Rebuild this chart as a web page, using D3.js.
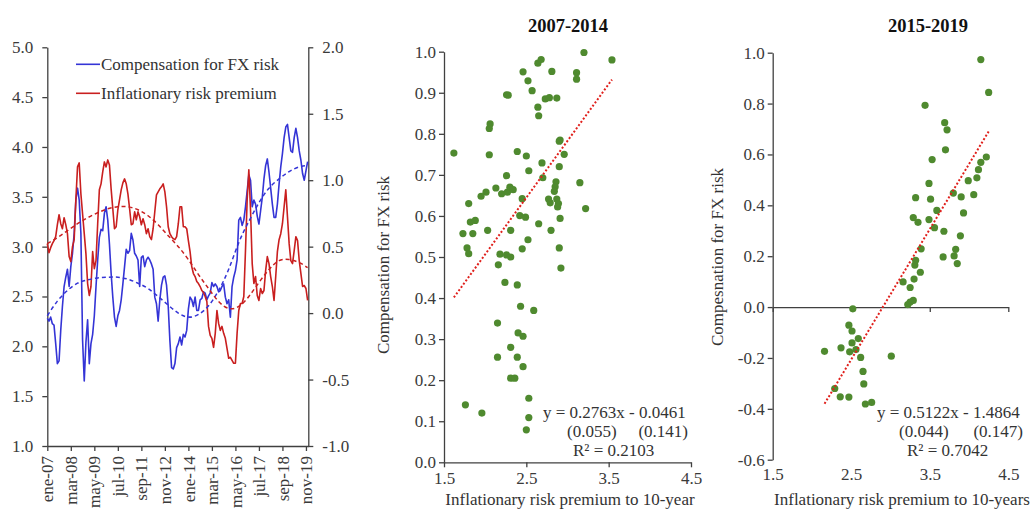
<!DOCTYPE html>
<html><head><meta charset="utf-8">
<script src="https://cdn.jsdelivr.net/npm/d3@7"></script>
<style>
body{margin:0;background:#fff;}
svg{display:block;font-family:"Liberation Serif","Times New Roman",serif;}
.tick text{fill:#3a3a3a;font-size:17px;font-family:"Liberation Serif","Times New Roman",serif;}
.axis path,.axis line{stroke:#404040;stroke-width:1.3;}
</style></head><body>
<svg id="c" width="1032" height="511"></svg>
<script>
// ---------- DATA ----------
const monthTickIdx = [0,14,28,42,56,70,84,98,112,126,140,154];
const monthTickLabels = ["ene-07","mar-08","may-09","jul-10","sep-11","nov-12","ene-14","mar-15","may-16","jul-17","sep-18","nov-19"];
const leftTicks = [1.0,1.5,2.0,2.5,3.0,3.5,4.0,4.5,5.0];
const rightTicks = [-1.0,-0.5,0.0,0.5,1.0,1.5,2.0];
const seriesNames = ["Compensation for FX risk","Inflationary risk premium"];

// monthly, Jan-2007 .. Dec-2019
const inflPrem = [3.03,2.94,2.99,3.03,3.06,3.10,3.22,3.32,3.23,3.18,
 3.29,3.22,3.13,2.90,2.85,3.00,3.07,3.47,3.80,3.84,
 3.53,3.33,3.13,2.93,2.63,2.51,2.60,2.95,2.78,2.86,
 3.23,3.57,3.63,3.75,3.85,3.80,3.87,3.82,3.58,3.38,
 3.18,3.20,3.37,3.47,3.57,3.64,3.68,3.63,3.53,3.38,
 3.22,3.23,3.35,3.27,3.35,3.30,3.22,3.28,3.22,3.13,
 3.18,3.10,3.07,3.18,3.35,3.52,3.55,3.58,3.60,3.63,
 3.55,3.40,3.20,3.13,3.10,3.08,3.07,3.10,3.23,3.40,
 3.40,3.20,3.20,3.18,3.06,2.95,2.80,2.73,2.70,2.65,
 2.63,2.60,2.56,2.54,2.50,2.45,2.20,2.11,2.08,1.99,
 2.13,2.36,2.23,2.16,2.20,2.13,2.08,1.98,1.88,1.89,
 1.86,1.83,1.83,2.13,2.36,2.43,2.43,2.50,2.96,3.47,
 3.77,3.37,2.83,2.63,2.70,2.51,2.46,2.58,2.53,2.56,
 2.76,2.90,2.83,2.70,2.60,2.46,2.70,2.95,3.07,3.13,
 3.23,3.40,3.57,3.30,3.03,2.86,2.83,2.96,3.10,3.06,
 2.86,2.73,2.60,2.61,2.58,2.46];
const fxComp = [-0.04,-0.06,-0.03,-0.08,-0.09,-0.23,-0.38,-0.36,-0.13,0.05,
 0.20,0.27,0.33,0.20,0.35,0.45,0.60,0.85,0.94,0.85,
 0.60,-0.20,-0.51,-0.22,-0.05,-0.38,-0.23,-0.16,-0.02,0.20,
 0.40,0.57,0.63,0.62,0.75,0.80,0.70,0.52,0.30,0.12,
 -0.03,-0.10,-0.02,0.02,0.10,0.22,0.35,0.48,0.45,0.47,
 0.60,0.55,0.45,0.43,0.40,0.20,0.42,0.43,0.35,0.40,
 0.42,0.40,0.37,0.33,0.12,0.07,-0.06,0.10,0.21,0.27,
 0.28,0.21,0.05,-0.21,-0.41,-0.42,-0.38,-0.26,-0.23,-0.18,
 -0.24,-0.16,-0.18,-0.13,0.03,0.12,0.10,0.05,0.12,0.02,
 0.02,0.10,0.11,0.16,0.15,0.10,0.13,0.15,0.23,0.20,
 0.22,0.20,0.16,0.17,0.20,0.22,0.12,0.07,0.10,-0.03,
 0.20,0.27,0.32,0.40,0.70,0.72,0.66,0.70,0.80,0.92,
 1.04,1.00,0.80,0.85,0.82,0.73,0.67,0.77,0.87,1.01,
 1.11,1.16,1.06,0.94,0.82,0.72,0.72,0.82,0.97,1.10,
 1.20,1.32,1.40,1.42,1.32,1.22,1.21,1.32,1.39,1.32,
 1.22,1.15,1.05,1.00,1.07,1.14];
// polynomial trend lines
const trendMonths = [0,6,12,18,24,30,36,42,48,54,60,66,72,78,84,90,96,102,108,114,120,126,132,138,144,150,155];
const fxTrend = [-0.02,0.09,0.17,0.225,0.25,0.265,0.27,0.27,0.255,0.225,0.185,0.125,0.06,0.0,-0.03,-0.01,0.055,0.17,0.33,0.53,0.69,0.83,0.94,1.01,1.065,1.10,1.11];
const inflTrend = [3.03,3.09,3.16,3.23,3.29,3.34,3.38,3.40,3.40,3.37,3.31,3.22,3.11,3.00,2.87,2.72,2.58,2.45,2.38,2.40,2.50,2.64,2.77,2.86,2.87,2.84,2.79];

// scatter 2007-2014
const scatA_x = [1.62,2.05,2.06,2.05,2.26,2.28,2.46,2.52,2.57,2.64,2.68,2.81,2.64,2.65,2.73,2.78,2.87,3.20,3.54,3.11,3.11,2.91,2.90,2.96,2.90,2.69,2.53,2.50,2.39,2.70,2.26,2.13,2.01,1.95,2.20,2.27,2.30,2.34,2.45,2.86,2.85,2.84,2.77,2.79,2.87,2.89,2.88,2.91,3.15,3.22,1.80,1.82,1.88,1.73,1.85,2.03,2.31,2.42,2.49,2.52,2.65,2.80,2.45,2.90,1.78,1.80,2.18,2.26,2.31,2.16,2.92,2.24,2.39,2.43,2.59,2.15,2.40,2.46,2.31,2.15,2.39,2.46,2.31,2.36,2.53,1.76,1.96,2.53,2.50];
const scatA_y = [0.753,0.813,0.824,0.749,0.895,0.894,0.951,0.929,0.905,0.972,0.981,0.952,0.865,0.844,0.885,0.888,0.887,0.998,0.980,0.949,0.933,0.785,0.782,0.750,0.720,0.729,0.710,0.746,0.757,0.693,0.698,0.668,0.658,0.648,0.654,0.658,0.670,0.664,0.642,0.683,0.671,0.660,0.641,0.632,0.641,0.630,0.622,0.594,0.681,0.618,0.630,0.585,0.589,0.557,0.557,0.565,0.565,0.601,0.597,0.542,0.581,0.565,0.520,0.522,0.522,0.508,0.507,0.505,0.500,0.481,0.473,0.438,0.432,0.380,0.370,0.339,0.315,0.307,0.280,0.256,0.256,0.233,0.205,0.205,0.156,0.140,0.120,0.109,0.079];
// scatter 2015-2019
const scatB_x = [4.15,4.25,3.44,3.69,3.72,3.70,3.53,4.22,4.15,4.12,4.10,3.99,3.49,3.32,3.51,3.80,3.90,4.06,3.59,3.93,3.29,3.35,3.49,3.56,3.68,3.89,3.39,3.83,3.67,3.81,3.85,3.32,3.31,3.16,3.38,3.30,3.25,3.29,3.25,3.22,2.52,2.47,2.51,2.59,2.51,2.16,2.37,2.48,2.56,2.62,3.01,2.65,2.66,2.29,2.36,2.47,2.68,2.76];
const scatB_y = [0.973,0.844,0.793,0.725,0.697,0.618,0.580,0.590,0.569,0.540,0.508,0.497,0.486,0.430,0.424,0.448,0.433,0.442,0.380,0.370,0.352,0.333,0.344,0.312,0.298,0.280,0.229,0.227,0.197,0.201,0.171,0.184,0.165,0.099,0.137,0.110,0.077,0.026,0.020,0.010,-0.007,-0.071,-0.094,-0.124,-0.141,-0.174,-0.160,-0.176,-0.167,-0.198,-0.193,-0.253,-0.302,-0.320,-0.353,-0.354,-0.381,-0.375];
const scatTicksX = [1.5,2.5,3.5,4.5];
const scatA_ticksY = [0,0.1,0.2,0.3,0.4,0.5,0.6,0.7,0.8,0.9,1.0];
const scatB_ticksY = [-0.6,-0.4,-0.2,0.0,0.2,0.4,0.6,0.8,1.0];
const eqA = {slope:0.2763, intercept:-0.0461, se:["(0.055)","(0.141)"], r2:"0.2103"};
const eqB = {slope:0.5122, intercept:-1.4864, se:["(0.044)","(0.147)"], r2:"0.7042"};
const titles = ["2007-2014","2015-2019"];
const yTitles = ["Compensation for FX risk","Compesnation for FX risk"];
const xTitles = ["Inflationary risk premium to 10-year","Inflationary risk premium to 10-years"];

// ---------- DRAW ----------
const svg = d3.select("#c");
const fmt = d => d.toFixed(1);
const BLUE="#3434d6", RED="#c91f1f", GREEN="#4f8a2f", DOT="#e0201c";

// Panel 1
const x1 = d3.scaleLinear().domain([0,155.4]).range([47.3,308.3]);
const yL = d3.scaleLinear().domain([1,5]).range([446,47.3]);
const yR = d3.scaleLinear().domain([-1,2]).range([446,47.3]);

svg.append("g").attr("class","axis").attr("transform","translate(47.3,0)")
  .call(d3.axisLeft(yL).tickValues(leftTicks).tickFormat(fmt).tickSize(5).tickSizeOuter(0).tickPadding(9));
svg.append("g").attr("class","axis").attr("transform","translate(308.3,0)")
  .call(d3.axisRight(yR).tickValues(rightTicks).tickFormat(fmt).tickSize(5).tickSizeOuter(0).tickPadding(9));
const bx = svg.append("g").attr("class","axis").attr("transform","translate(0,446)")
  .call(d3.axisBottom(x1).tickValues(monthTickIdx).tickFormat((d,i)=>monthTickLabels[i]).tickSize(5).tickSizeOuter(0));
bx.selectAll(".tick text").attr("transform","rotate(-90)").attr("text-anchor","end")
  .attr("x",-10).attr("y",0).attr("dy","0.33em");

const lineB = d3.line().x((d,i)=>x1(i)).y(d=>yR(d));
const lineR = d3.line().x((d,i)=>x1(i)).y(d=>yL(d));
svg.append("path").attr("d",lineB(fxComp)).attr("fill","none").attr("stroke",BLUE).attr("stroke-width",1.6).attr("stroke-linejoin","round");
svg.append("path").attr("d",lineR(inflPrem)).attr("fill","none").attr("stroke",RED).attr("stroke-width",1.6).attr("stroke-linejoin","round");
const tB = d3.line().curve(d3.curveNatural).x((d,i)=>x1(trendMonths[i])).y(d=>yR(d));
const tR = d3.line().curve(d3.curveNatural).x((d,i)=>x1(trendMonths[i])).y(d=>yL(d));
svg.append("path").attr("d",tB(fxTrend)).attr("fill","none").attr("stroke",BLUE).attr("stroke-width",1.5).attr("stroke-dasharray","4 3");
svg.append("path").attr("d",tR(inflTrend)).attr("fill","none").attr("stroke",RED).attr("stroke-width",1.5).attr("stroke-dasharray","4 3");

// legend
[[BLUE,64.3],[RED,93.3]].forEach((c,i)=>{
  svg.append("line").attr("x1",76).attr("x2",100).attr("y1",c[1]).attr("y2",c[1]).attr("stroke",c[0]).attr("stroke-width",1.6);
  svg.append("text").attr("x",101).attr("y",c[1]).attr("dy","0.33em").attr("font-size",17).attr("fill","#333").text(seriesNames[i]);
});

// Scatter panels
function scatter(cfg){
  const {xs,ys,xr,yd,yr,yticks,eq,title,titleX,yTitle,yTitleX,yTitleY,xTitle,xTitleX,labelY,eqX,eqSE,eqR2X} = cfg;
  const x = d3.scaleLinear().domain([1.5,4.5]).range(xr);
  const y = d3.scaleLinear().domain(yd).range(yr);
  svg.append("g").attr("class","axis").attr("transform",`translate(${xr[0]},0)`)
    .call(d3.axisLeft(y).tickValues(yticks).tickFormat(fmt).tickSize(5).tickSizeOuter(0).tickPadding(3));
  const y0 = yd[0] < 0 ? y(0) : yr[0];
  svg.append("g").attr("class","axis").attr("transform",`translate(0,${y0})`)
    .call(d3.axisBottom(x).tickValues(scatTicksX).tickSize(5).tickSizeOuter(0).tickFormat(""));
  const lab = svg.append("g").attr("class","axis").attr("transform",`translate(0,${yr[0]})`)
    .call(d3.axisBottom(x).tickValues(scatTicksX).tickFormat(fmt).tickSize(0).tickPadding(labelY));
  lab.select(".domain").remove();
  svg.append("g").selectAll("circle").data(xs).join("circle")
    .attr("cx",d=>x(d)).attr("cy",(d,i)=>y(ys[i])).attr("r",3.6).attr("fill",GREEN);
  const ext = d3.extent(xs);
  svg.append("line").attr("x1",x(ext[0])).attr("x2",x(ext[1]))
    .attr("y1",y(eq.slope*ext[0]+eq.intercept)).attr("y2",y(eq.slope*ext[1]+eq.intercept))
    .attr("stroke",DOT).attr("stroke-width",2).attr("stroke-dasharray","2 2");
  svg.append("text").attr("x",titleX).attr("y",31.7).attr("text-anchor","middle").attr("font-weight","bold").attr("font-size",18.5).attr("fill","#111").text(title);
  svg.append("text").attr("transform",`translate(${yTitleX},${yTitleY}) rotate(-90)`).attr("text-anchor","middle").attr("font-size",17).attr("fill","#333").text(yTitle);
  svg.append("text").attr("x",xTitleX).attr("y",505).attr("text-anchor","middle").attr("font-size",17).attr("fill","#333").text(xTitle);
  const sgn = eq.intercept<0?" - ":" + ";
  svg.append("text").attr("x",eqX).attr("y",417.7).attr("font-size",17).attr("fill","#333")
    .text(`y = ${eq.slope.toFixed(4)}x${sgn}${Math.abs(eq.intercept).toFixed(4)}`);
  svg.append("text").attr("x",eqSE[0]).attr("y",437.3).attr("font-size",17).attr("fill","#333").text(eq.se[0]);
  svg.append("text").attr("x",eqSE[1]).attr("y",437.3).attr("text-anchor","end").attr("font-size",17).attr("fill","#333").text(eq.se[1]);
  svg.append("text").attr("x",eqR2X).attr("y",455.7).attr("font-size",17).attr("fill","#333").text(`R² = ${eq.r2}`);
}
scatter({xs:scatA_x,ys:scatA_y,xr:[444,691],yd:[0,1],yr:[462.3,51.7],yticks:scatA_ticksY,eq:eqA,
  title:titles[0],titleX:568,yTitle:yTitles[0],yTitleX:389,yTitleY:265,xTitle:xTitles[0],xTitleX:570,labelY:10,
  eqX:543,eqSE:[567,688],eqR2X:573});
scatter({xs:scatB_x,ys:scatB_y,xr:[772.7,1008.3],yd:[-0.6,1.0],yr:[459.7,52.7],yticks:scatB_ticksY,eq:eqB,
  title:titles[1],titleX:928,yTitle:yTitles[1],yTitleX:723,yTitleY:257,xTitle:xTitles[1],xTitleX:902,labelY:8,
  eqX:877,eqSE:[899,1023],eqR2X:907});
</script></body></html>
